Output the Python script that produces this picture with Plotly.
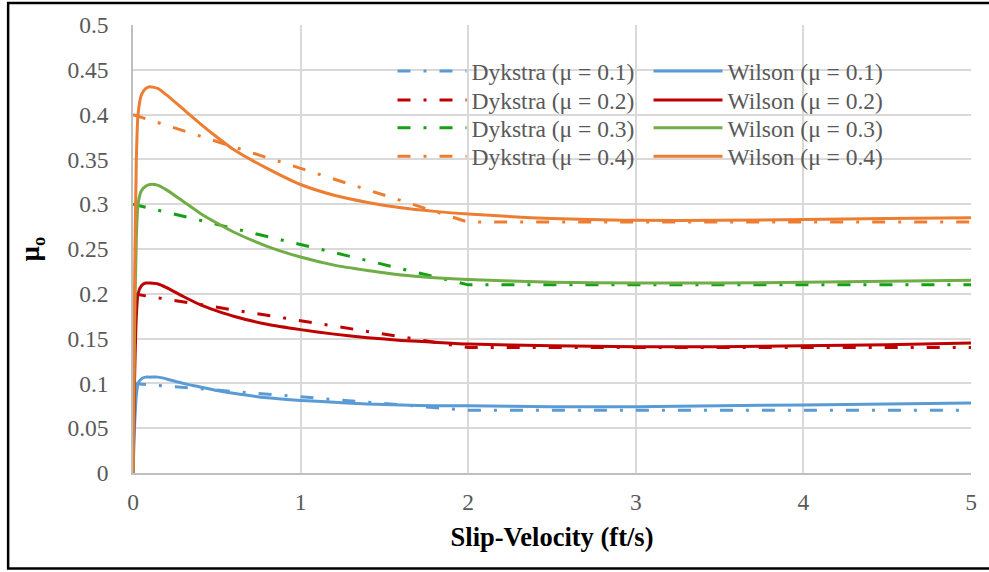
import plotly.graph_objects as go

# ---- data ----
dyk_x = [0, 0.5, 1.0, 1.5, 2.0, 3.0, 4.0, 5.0]
dyk_01 = [0.100, 0.0925, 0.085, 0.0775, 0.070, 0.070, 0.070, 0.070]
dyk_02 = [0.200, 0.185, 0.170, 0.155, 0.140, 0.140, 0.140, 0.140]
dyk_03 = [0.300, 0.2775, 0.255, 0.2325, 0.210, 0.210, 0.210, 0.210]
dyk_04 = [0.400, 0.370, 0.340, 0.310, 0.280, 0.280, 0.280, 0.280]

wil_x = [0, 0.01, 0.02, 0.03, 0.05, 0.075, 0.1, 0.15, 0.2, 0.3, 0.4, 0.5, 0.6, 0.8,
         1.0, 1.2, 1.4, 1.6, 1.8, 2.0, 2.5, 3.0, 3.5, 4.0, 4.5, 5.0]
wil_01 = [0, 0.055, 0.087, 0.100, 0.105, 0.107, 0.107, 0.107, 0.105, 0.100, 0.096, 0.092, 0.089, 0.084,
          0.081, 0.079, 0.077, 0.076, 0.075, 0.075, 0.074, 0.074, 0.075, 0.076, 0.077, 0.078]
wil_02 = [0, 0.110, 0.175, 0.200, 0.209, 0.212, 0.212, 0.211, 0.207, 0.197, 0.188, 0.181, 0.175, 0.166,
          0.160, 0.155, 0.151, 0.148, 0.146, 0.144, 0.142, 0.141, 0.141, 0.142, 0.143, 0.145]
wil_03 = [0, 0.165, 0.262, 0.300, 0.315, 0.320, 0.322, 0.321, 0.316, 0.303, 0.290, 0.279, 0.269, 0.253,
          0.241, 0.232, 0.226, 0.221, 0.218, 0.216, 0.213, 0.212, 0.212, 0.213, 0.214, 0.215]
wil_04 = [0, 0.220, 0.350, 0.400, 0.422, 0.429, 0.431, 0.429, 0.422, 0.406, 0.390, 0.375, 0.361, 0.340,
          0.322, 0.310, 0.302, 0.296, 0.292, 0.289, 0.284, 0.282, 0.282, 0.283, 0.284, 0.285]

mus = ["0.1", "0.2", "0.3", "0.4"]
dyk_colors = ["#5B9BD5", "#C00000", "#14A014", "#ED7D31"]
wil_colors = ["#5B9BD5", "#C00000", "#70AD47", "#ED7D31"]

x_ticks = [0, 1, 2, 3, 4, 5]
x_ticktext = ["0", "1", "2", "3", "4", "5"]
y_ticks = [0, 0.05, 0.1, 0.15, 0.2, 0.25, 0.3, 0.35, 0.4, 0.45, 0.5]
y_ticktext = ["0", "0.05", "0.1", "0.15", "0.2", "0.25", "0.3", "0.35", "0.4", "0.45", "0.5"]

FONT = "Liberation Serif"
GRAY = "#595959"
TICK_SIZE = 23.5

fig = go.Figure()
dyk_series = [dyk_01, dyk_02, dyk_03, dyk_04]
wil_series = [wil_01, wil_02, wil_03, wil_04]

# legend row centres (px from top) and column origins (px from left)
row_px = [69.5, 98.5, 126.5, 155]
col_px = [392.5, 648.5]
plot_l, plot_w, plot_b, plot_h = 133, 838, 473, 450

legends = {}
for i in range(4):
    dname = "legend" if i == 0 else f"legend{2 * i + 1}"
    wname = f"legend{2 * i + 2}"
    ypaper = (plot_b - row_px[i]) / plot_h
    for name, cx in ((dname, col_px[0]), (wname, col_px[1])):
        legends[name] = dict(
            x=(cx - plot_l) / plot_w, y=ypaper,
            xanchor="left", yanchor="middle", orientation="v",
            font=dict(family=FONT, size=TICK_SIZE, color=GRAY),
            bgcolor="rgba(255,255,255,0)", itemwidth=69,
        )
    fig.add_trace(go.Scatter(
        x=dyk_x, y=dyk_series[i], mode="lines",
        name=f"Dykstra (\u03bc = {mus[i]})",
        line=dict(color=dyk_colors[i], width=3, dash="13px,13px,3px,13px"),
        legend=dname))
    fig.add_trace(go.Scatter(
        x=wil_x, y=wil_series[i], mode="lines",
        name=f"Wilson (\u03bc = {mus[i]})",
        line=dict(color=wil_colors[i], width=3, shape="spline", smoothing=0.6),
        legend=wname))

fig.update_layout(
    width=989, height=572,
    margin=dict(l=133, r=18, t=23, b=99),
    paper_bgcolor="white", plot_bgcolor="white",
    font=dict(family=FONT, size=TICK_SIZE, color=GRAY),
    showlegend=True,
    **legends,
    xaxis=dict(
        range=[0, 5], tickvals=x_ticks, ticktext=x_ticktext,
        showgrid=True, gridcolor="#D9D9D9", gridwidth=1.5,
        showline=True, linecolor="#BFBFBF", linewidth=1.5,
        zeroline=False, ticks="", ticklabelstandoff=7,
        tickfont=dict(family=FONT, size=TICK_SIZE, color=GRAY),
        title=dict(text="<b>Slip-Velocity (ft/s)</b>", standoff=13,
                   font=dict(family=FONT, size=26.5, color="black")),
    ),
    yaxis=dict(
        range=[0, 0.5], tickvals=y_ticks, ticktext=y_ticktext,
        showgrid=True, gridcolor="#D9D9D9", gridwidth=1.5,
        showline=True, linecolor="#BFBFBF", linewidth=1.5,
        zeroline=False, ticks="", ticklabelstandoff=18,
        tickfont=dict(family=FONT, size=TICK_SIZE, color=GRAY),
        title=dict(text="<b>\u03bc<sub>o</sub></b>", standoff=20,
                   font=dict(family=FONT, size=26.5, color="black")),
    ),
    shapes=[dict(type="rect", xref="paper", yref="paper",
                 x0=-0.149, x1=1.03, y0=-0.2133, y1=1.049,
                 line=dict(color="black", width=2.5), fillcolor="rgba(0,0,0,0)",
                 layer="above")],
)

fig.write_html("out.html")
